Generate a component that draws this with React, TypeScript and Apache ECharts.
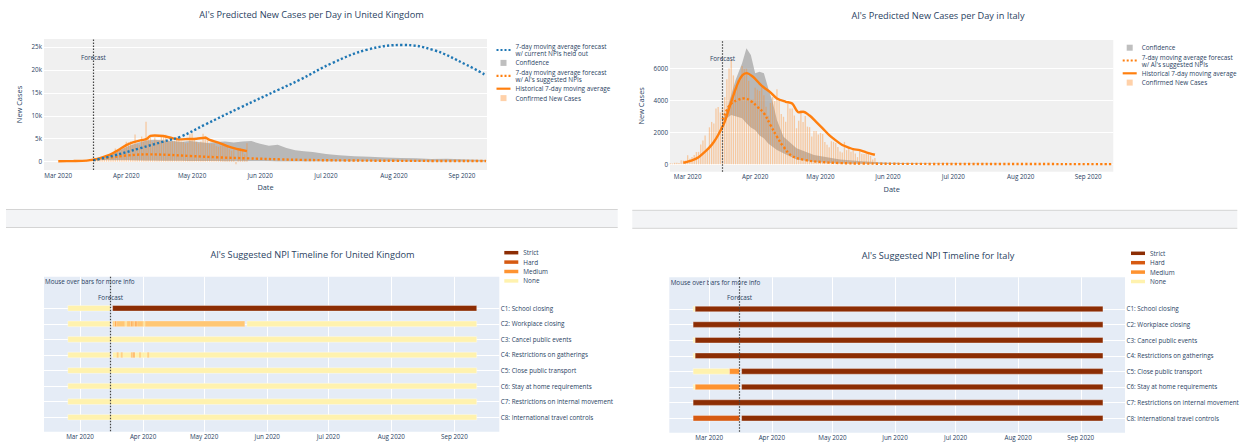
import { useEffect, useRef } from 'react';
import * as echarts from 'echarts';

const FONT = "'Open Sans', verdana, arial, sans-serif";
const TEXT = '#2a3f5f';

// ---------- axes ----------
const monthTickDates = ['2020-03-01', '2020-04-01', '2020-05-01', '2020-06-01', '2020-07-01', '2020-08-01', '2020-09-01'];
const monthTickLabels = ['Mar 2020', 'Apr 2020', 'May 2020', 'Jun 2020', 'Jul 2020', 'Aug 2020', 'Sep 2020'];
const ukYTicks = [0, 5000, 10000, 15000, 20000, 25000];
const ukYTickLabels = ['0', '5k', '10k', '15k', '20k', '25k'];
const itYTicks = [0, 2000, 4000, 6000];
const itYTickLabels = ['0', '2000', '4000', '6000'];

const forecastDate = '2020-03-17';
const npiForecastDate = '2020-03-16';

const heldName = '7-day moving average forecast\nw/ current NPIs held out';
const aiName = "7-day moving average forecast\nw/ AI's suggested NPIs";
const confName = 'Confidence';
const histName = 'Historical 7-day moving average';
const casesName = 'Confirmed New Cases';

// ---------- United Kingdom ----------
const ukCaseStart = '2020-02-24';
const ukDailyCases = [
  4, 0, 0, 2, 5, 3,
  12, 4, 11, 34, 30, 48, 43,
  67, 48, 52, 83, 134, 117, 342,
  250, 152, 407, 676, 643, 714, 1035,
  665, 967, 1427, 1452, 2129, 2885, 2546,
  2433, 2619, 3009, 4324, 4244, 4450, 3735,
  5903, 3802, 3634, 5491, 4344, 8681, 5233,
  5288, 4342, 5252, 4603, 4617, 5599, 5525,
  5850, 4676, 4301, 4451, 4583, 5386, 4913,
  4463, 4309, 3996, 4076, 6032, 6201, 4806,
  4339, 3985, 4406, 6111, 5614, 4649, 3896,
  3923, 3877, 3403, 3242, 3446, 3560, 3450,
  3534, 2684, 2412, 2615, -525, 2959, 2959,
  2409, 1625, 4043,
];
const ukMaDates = ['2020-03-01', '2020-03-08', '2020-03-14', '2020-03-17', '2020-03-20', '2020-03-23', '2020-03-26', '2020-03-29', '2020-04-01', '2020-04-04', '2020-04-07', '2020-04-10', '2020-04-12', '2020-04-14', '2020-04-18', '2020-04-22', '2020-04-25', '2020-04-29', '2020-05-03', '2020-05-07', '2020-05-09', '2020-05-13', '2020-05-17', '2020-05-20', '2020-05-23', '2020-05-26'];
const ukMaValues = [100, 150, 250, 450, 800, 1250, 1900, 2700, 3600, 4200, 4600, 4900, 5600, 5700, 5600, 5100, 4870, 4930, 5000, 5220, 4750, 4150, 3400, 2950, 2600, 2300];
const ukHeldDates = ['2020-03-17', '2020-03-26', '2020-04-07', '2020-04-18', '2020-04-26', '2020-05-07', '2020-05-23', '2020-06-10', '2020-06-19', '2020-07-04', '2020-07-20', '2020-08-05', '2020-08-19', '2020-09-03', '2020-09-12'];
const ukHeldValues = [300, 1300, 2900, 4400, 5500, 8100, 11800, 15800, 17800, 21500, 24400, 25400, 24300, 21100, 18800];
const ukAiDates = ['2020-03-17', '2020-03-24', '2020-04-01', '2020-04-11', '2020-04-20', '2020-04-30', '2020-05-13', '2020-05-26', '2020-06-10', '2020-06-20', '2020-07-10', '2020-08-01', '2020-08-20', '2020-09-12'];
const ukAiValues = [400, 900, 1350, 1600, 1500, 1250, 950, 740, 520, 400, 280, 200, 170, 150];
const ukConfDates = ['2020-03-17', '2020-03-21', '2020-03-25', '2020-03-29', '2020-04-02', '2020-04-06', '2020-04-10', '2020-04-14', '2020-04-18', '2020-04-22', '2020-04-26', '2020-04-30', '2020-05-04', '2020-05-08', '2020-05-12', '2020-05-16', '2020-05-20', '2020-05-24', '2020-05-28', '2020-06-01', '2020-06-05', '2020-06-09', '2020-06-13', '2020-06-17', '2020-06-21', '2020-06-25', '2020-07-01', '2020-07-07', '2020-07-14', '2020-07-21', '2020-07-28', '2020-08-04', '2020-08-11', '2020-08-18', '2020-08-25', '2020-09-01', '2020-09-12'];
const ukConfUpper = [450, 900, 1600, 2500, 3400, 4100, 4600, 4800, 4600, 4500, 4300, 4500, 4300, 4100, 4300, 4400, 4200, 4400, 4500, 3900, 3500, 3700, 3000, 2500, 2300, 2100, 1700, 1400, 1200, 1100, 900, 800, 750, 600, 650, 550, 400];
const ukConfLower = [300, 350, 400, 400, 350, 300, 280, 250, 230, 200, 190, 170, 160, 150, 140, 130, 120, 110, 100, 90, 80, 70, 60, 55, 50, 45, 40, 35, 30, 30, 25, 25, 20, 20, 20, 15, 15];

// ---------- Italy ----------
const itCaseStart = '2020-02-21';
const itDailyCases = [
  14, 62, 53, 97, 93, 78, 250, 238, 240,
  566, 342, 466, 587, 769, 778, 1247,
  1492, 1797, 977, 2313, 2651, 2547, 3497,
  3590, 3233, 3526, 4207, 5322, 5986, 6557,
  5560, 4789, 5249, 5210, 6153, 5959, 5974,
  5217, 4050, 4053, 4782, 4668, 4585, 4805,
  4316, 3599, 3039, 3836, 4204, 3951, 4694,
  4092, 3153, 2972, 2667, 3786, 3493, 3491,
  3047, 2256, 2729, 3370, 2646, 3021, 2357,
  2324, 1739, 2091, 2086, 1872, 1965, 1900,
  1389, 1221, 1075, 1444, 1401, 1327, 1083,
  802, 744, 1402, 888, 992, 789, 875,
  675, 451, 813, 665, 642, 652, 669,
  531, 300, 397,
];
const itMaDates = ['2020-02-28', '2020-03-03', '2020-03-06', '2020-03-09', '2020-03-11', '2020-03-13', '2020-03-15', '2020-03-18', '2020-03-21', '2020-03-24', '2020-03-26', '2020-03-28', '2020-03-31', '2020-04-03', '2020-04-05', '2020-04-08', '2020-04-11', '2020-04-15', '2020-04-18', '2020-04-21', '2020-04-23', '2020-04-26', '2020-04-29', '2020-05-02', '2020-05-05', '2020-05-08', '2020-05-11', '2020-05-14', '2020-05-16', '2020-05-19', '2020-05-22', '2020-05-26'];
const itMaValues = [100, 250, 450, 800, 1060, 1400, 1830, 2660, 3910, 5060, 5550, 5700, 5475, 5050, 4800, 4500, 4120, 3910, 3800, 3250, 3290, 3050, 2660, 2250, 1830, 1500, 1210, 1050, 950, 890, 750, 600];
const itAiDates = ['2020-03-17', '2020-03-19', '2020-03-21', '2020-03-24', '2020-03-27', '2020-03-30', '2020-04-02', '2020-04-05', '2020-04-08', '2020-04-11', '2020-04-14', '2020-04-18', '2020-04-24', '2020-05-01', '2020-05-10', '2020-05-20', '2020-06-10', '2020-07-15', '2020-09-12'];
const itAiValues = [2800, 3400, 3800, 4020, 4120, 3950, 3600, 3190, 2460, 1725, 1100, 520, 270, 150, 80, 50, 30, 20, 15];
const itConfDates = ['2020-03-17', '2020-03-18', '2020-03-21', '2020-03-23', '2020-03-26', '2020-03-28', '2020-03-30', '2020-04-01', '2020-04-03', '2020-04-05', '2020-04-07', '2020-04-09', '2020-04-11', '2020-04-14', '2020-04-20', '2020-04-28', '2020-05-10', '2020-05-20', '2020-06-01', '2020-06-20', '2020-07-20', '2020-09-12'];
const itConfUpper = [2900, 3000, 4330, 5270, 6310, 7250, 6830, 5690, 5790, 5690, 4750, 3910, 2770, 1725, 1000, 580, 300, 200, 100, 50, 30, 20];
const itConfLower = [2700, 2800, 3080, 3000, 2875, 2560, 2300, 2140, 1800, 1625, 1300, 1100, 890, 700, 300, 150, 60, 35, 25, 15, 10, 8];

// ---------- NPI timelines ----------
const npiNames = ['C1: School closing', 'C2: Workplace closing', 'C3: Cancel public events', 'C4: Restrictions on gatherings', 'C5: Close public transport', 'C6: Stay at home requirements', 'C7: Restrictions on internal movement', 'C8: International travel controls'];
const npiLevels = ['Strict', 'Hard', 'Medium', 'None'];
// [row, start, end, level, opacity]
const ukNpiSegments: [number, string, string, string, number][] = [
  [0, '2020-02-24', '2020-03-16', 'None', 1],
  [0, '2020-03-17', '2020-09-12', 'Strict', 1],
  [1, '2020-02-24', '2020-03-16', 'None', 1],
  [1, '2020-03-17', '2020-05-21', 'None', 1],
  [1, '2020-05-22', '2020-09-12', 'None', 1],
  [1, '2020-03-17', '2020-03-18', 'Medium', 0.3],
  [1, '2020-03-18', '2020-03-19', 'Medium', 0.75],
  [1, '2020-03-19', '2020-03-23', 'Medium', 0.45],
  [1, '2020-03-23', '2020-03-24', 'Medium', 0.15],
  [1, '2020-03-24', '2020-03-26', 'Medium', 0.45],
  [1, '2020-03-26', '2020-03-27', 'Medium', 0.75],
  [1, '2020-03-27', '2020-03-28', 'Medium', 0.45],
  [1, '2020-03-28', '2020-03-29', 'Medium', 0.8],
  [1, '2020-03-29', '2020-04-01', 'Medium', 0.45],
  [1, '2020-04-01', '2020-04-02', 'Medium', 0.15],
  [1, '2020-04-02', '2020-05-21', 'Medium', 0.45],
  [2, '2020-02-24', '2020-09-12', 'None', 1],
  [3, '2020-02-24', '2020-03-16', 'None', 1],
  [3, '2020-03-17', '2020-09-12', 'None', 1],
  [3, '2020-03-19', '2020-03-20', 'Medium', 0.35],
  [3, '2020-03-21', '2020-03-22', 'Medium', 0.35],
  [3, '2020-03-26', '2020-03-27', 'Medium', 0.45],
  [3, '2020-03-27', '2020-03-28', 'Medium', 0.6],
  [3, '2020-03-30', '2020-03-31', 'Medium', 0.3],
  [3, '2020-04-03', '2020-04-04', 'Medium', 0.35],
  [4, '2020-02-24', '2020-09-12', 'None', 1],
  [5, '2020-02-24', '2020-09-12', 'None', 1],
  [6, '2020-02-24', '2020-09-12', 'None', 1],
  [7, '2020-02-24', '2020-09-12', 'None', 1],
];
const itNpiSegments: [number, string, string, string, number][] = [
  [0, '2020-02-22', '2020-02-23', 'None', 1],
  [0, '2020-02-23', '2020-09-12', 'Strict', 1],
  [1, '2020-02-22', '2020-09-12', 'Strict', 1],
  [2, '2020-02-22', '2020-02-23', 'None', 1],
  [2, '2020-02-23', '2020-09-12', 'Strict', 1],
  [3, '2020-02-22', '2020-02-23', 'None', 1],
  [3, '2020-02-23', '2020-09-12', 'Strict', 1],
  [4, '2020-02-22', '2020-03-11', 'None', 1],
  [4, '2020-03-11', '2020-03-16', 'Medium', 1],
  [4, '2020-03-17', '2020-09-12', 'Strict', 1],
  [5, '2020-02-22', '2020-02-23', 'None', 1],
  [5, '2020-02-23', '2020-03-16', 'Medium', 1],
  [5, '2020-03-17', '2020-09-12', 'Strict', 1],
  [6, '2020-02-22', '2020-09-12', 'Strict', 1],
  [7, '2020-02-22', '2020-03-16', 'Hard', 1],
  [7, '2020-03-17', '2020-09-12', 'Strict', 1],
];

// ---------- helpers ----------
const DAY = 86400000;
const ts = (s: string, h = 0) => {
  const [y, m, d] = s.split('-').map(Number);
  return new Date(y, m - 1, d, h).getTime();
};
const pairs = (dates: string[], values: number[]) => dates.map((d, i) => [ts(d), values[i]]);
const daily = (start: string, values: number[]) => values.map((v, i) => [ts(start) + i * DAY, v]);
const monthTicks = monthTickDates.map((d) => ts(d));

const levelColors: Record<string, string> = { Strict: '#8c2d04', Hard: '#d65a12', Medium: '#fe9330', None: '#fff2ae' };
const SQUARE = 'path://M0,0L10,0L10,10L0,10Z';
const DOT_ICON = 'path://M0,0h2.2v2.4h-2.2z M4.4,0h2.2v2.4h-2.2z M8.8,0h2.2v2.4h-2.2z M13.2,0h2.2v2.4h-2.2z';
const LINE_ICON = 'path://M0,0L15.4,0L15.4,2.4L0,2.4Z';
const ORANGE = '#ff7f0e';
const BLUE = '#1f77b4';
const GRAY = 'rgba(128,128,128,0.5)';
const DOT = [2.2, 2.2];
const labelFont = { color: TEXT, fontFamily: FONT, fontSize: 6.3 };

function dateAxis(gridIndex: number, min: number, max: number, top: boolean) {
  return {
    type: 'value', gridIndex, min, max, scale: true,
    name: top ? 'Date' : '',
    nameLocation: 'middle', nameGap: 13.5,
    nameTextStyle: { color: TEXT, fontFamily: FONT, fontSize: 7.4 },
    axisLine: { show: false },
    axisTick: { show: false, customValues: monthTicks },
    axisLabel: {
      ...labelFont, margin: 2, customValues: monthTicks,
      formatter: (v: number, i: number) => {
        const k = monthTicks.indexOf(v);
        return monthTickLabels[k >= 0 ? k : i] ?? '';
      },
    },
    splitLine: { show: !top, lineStyle: { color: '#ffffff', width: 1 } },
  };
}

function casesAxis(gridIndex: number, min: number, max: number, ticks: number[], labels: string[], gap: number) {
  return {
    type: 'value', gridIndex, min, max,
    name: 'New Cases', nameLocation: 'middle', nameGap: gap, nameRotate: 90,
    nameTextStyle: { color: TEXT, fontFamily: FONT, fontSize: 7.4 },
    axisLine: { show: false },
    axisTick: { show: false, customValues: ticks },
    axisLabel: {
      ...labelFont, margin: 2, customValues: ticks,
      formatter: (v: number) => { const k = ticks.indexOf(v); return k >= 0 ? labels[k] : ''; },
    },
    splitLine: { show: true, lineStyle: { color: '#ffffff', width: 1 } },
  };
}

function npiAxis(gridIndex: number) {
  const rows = npiNames.map((_, i) => i);
  return {
    type: 'value', gridIndex, min: -2.03, max: 7.93, inverse: true, position: 'right',
    axisLine: { show: false },
    axisTick: { show: false, customValues: rows },
    axisLabel: { ...labelFont, margin: 1.5, customValues: rows, formatter: (v: number) => npiNames[Math.round(v)] ?? '' },
    splitLine: { show: true, lineStyle: { color: '#ffffff', width: 1 } },
  };
}

const forecastMarkLine = (date: string) => ({
  silent: true, symbol: ['none', 'none'], label: { show: false },
  lineStyle: { color: '#444444', type: [1.5, 1.5], width: 1.2 },
  emphasis: { disabled: true },
  data: [{ xAxis: ts(date) }],
});
const forecastMarkPoint = (date: string, y: number) => ({
  silent: true, symbol: 'circle', symbolSize: 1, itemStyle: { color: 'rgba(0,0,0,0)' },
  label: { show: true, position: 'inside', formatter: 'Forecast', ...labelFont },
  data: [{ coord: [ts(date), y] }],
});

function casesSeries(idx: number, c: any) {
  const band = c.confDates.map((d: string, i: number) => [ts(d), c.confLower[i], c.confUpper[i]]);
  const list: any[] = [
    {
      type: 'bar', name: casesName, xAxisIndex: idx, yAxisIndex: idx, barWidth: 1.3,
      itemStyle: { color: 'rgba(255,140,40,0.4)' }, data: daily(c.start, c.cases),
    },
    {
      type: 'line', name: histName, xAxisIndex: idx, yAxisIndex: idx, symbol: 'none', color: ORANGE,
      lineStyle: { color: ORANGE, width: 2.4 }, data: pairs(c.maDates, c.maValues), smooth: 0.3,
      markLine: forecastMarkLine(forecastDate), markPoint: forecastMarkPoint(forecastDate, c.labelY),
    },
    {
      type: 'custom', name: confName, xAxisIndex: idx, yAxisIndex: idx, silent: true,
      color: GRAY, itemStyle: { color: GRAY },
      encode: { x: 0, y: [1, 2] },
      data: band,
      renderItem: (params: any, api: any) => {
        if (params.dataIndex !== 0) return null;
        const upper = band.map((p: number[]) => api.coord([p[0], p[2]]));
        const lower = band.slice().reverse().map((p: number[]) => api.coord([p[0], p[1]]));
        return { type: 'polygon', shape: { points: upper.concat(lower) }, style: { fill: GRAY } };
      },
    },
    {
      type: 'line', name: aiName, xAxisIndex: idx, yAxisIndex: idx, symbol: 'none', color: ORANGE, smooth: 0.4,
      lineStyle: { color: ORANGE, width: 2.4, type: DOT }, data: pairs(c.aiDates, c.aiValues),
    },
  ];
  if (c.heldDates) {
    list.push({
      type: 'line', name: heldName, xAxisIndex: idx, yAxisIndex: idx, symbol: 'none', color: BLUE, smooth: 0.4,
      lineStyle: { color: BLUE, width: 2.4, type: DOT }, data: pairs(c.heldDates, c.heldValues),
    });
  }
  return list;
}

function npiSeries(idx: number, segs: [number, string, string, string, number][]) {
  return ['None', 'Medium', 'Hard', 'Strict'].map((level) => {
    const color = levelColors[level];
    const s: any = {
      type: 'custom', name: level, xAxisIndex: idx, yAxisIndex: idx, color, itemStyle: { color }, silent: true,
      encode: { x: [1, 2], y: 0 },
      data: segs.filter((g) => g[3] === level).map((g) => [g[0], ts(g[1]), ts(g[2]), g[4]]),
      renderItem: (_p: any, api: any) => {
        const a = api.coord([api.value(1), api.value(0)]);
        const b = api.coord([api.value(2), api.value(0)]);
        const h = 5.6;
        return {
          type: 'rect',
          shape: { x: a[0], y: a[1] - h / 2, width: b[0] - a[0], height: h },
          style: { fill: color, stroke: 'rgba(255,255,255,0.45)', lineWidth: 0.8, opacity: api.value(3) },
        };
      },
    };
    if (level === 'None') {
      s.markLine = forecastMarkLine(npiForecastDate);
      s.markPoint = forecastMarkPoint(npiForecastDate, -0.71);
    }
    return s;
  });
}

function buildOption() {
  const legendText = { color: TEXT, fontFamily: FONT, fontSize: 6.4, lineHeight: 7 };
  const topLegend = { orient: 'vertical', padding: 0, itemWidth: 14, itemHeight: 6, selectedMode: false, textStyle: legendText };
  const npiLegend = {
    orient: 'vertical', padding: 0, itemWidth: 14, itemHeight: 3.5, itemGap: 2, selectedMode: false,
    textStyle: { ...legendText, lineHeight: 7.4 },
    data: npiLevels.map((n) => ({ name: n, icon: 'rect' })),
  };
  const titleStyle = { color: TEXT, fontFamily: FONT, fontSize: 9.2, fontWeight: 'normal' };
  const gridBg = (c: string) => ({ show: true, backgroundColor: c, borderWidth: 0 });
  return {
    animation: false,
    textStyle: { fontFamily: FONT },
    title: [
      { text: "AI's Predicted New Cases per Day in United Kingdom", left: 311.5, top: 9.5, textAlign: 'center', padding: 0, textStyle: titleStyle },
      { text: "AI's Predicted New Cases per Day in Italy", left: 938, top: 10.5, textAlign: 'center', padding: 0, textStyle: titleStyle },
      { text: "AI's Suggested NPI Timeline for United Kingdom", left: 312.5, top: 249.5, textAlign: 'center', padding: 0, textStyle: titleStyle },
      { text: "AI's Suggested NPI Timeline for Italy", left: 938, top: 251, textAlign: 'center', padding: 0, textStyle: titleStyle },
    ],
    legend: [
      {
        ...topLegend, left: 496.5, top: 43, itemGap: 2.4,
        data: [{ name: heldName, icon: DOT_ICON }, { name: confName, icon: SQUARE }, { name: aiName, icon: DOT_ICON }, { name: histName, icon: LINE_ICON }, { name: casesName, icon: SQUARE }],
      },
      {
        ...topLegend, left: 1122.7, top: 44.2, itemGap: 2.3,
        data: [{ name: confName, icon: SQUARE }, { name: aiName, icon: DOT_ICON }, { name: histName, icon: LINE_ICON }, { name: casesName, icon: SQUARE }],
      },
      { ...npiLegend, left: 504.3, top: 249 },
      { ...npiLegend, left: 1131, top: 249.6 },
    ],
    grid: [
      { left: 44, top: 39, width: 443, height: 131, ...gridBg('#f0f0f0') },
      { left: 670, top: 40, width: 443.3, height: 131.7, ...gridBg('#f0f0f0') },
      { left: 44, top: 276.7, width: 455.3, height: 155, ...gridBg('#e5ecf6') },
      { left: 669.3, top: 277.3, width: 455.7, height: 155.4, ...gridBg('#e5ecf6') },
    ],
    xAxis: [
      dateAxis(0, ts('2020-02-23', 12), ts('2020-09-12', 10), true),
      dateAxis(1, ts('2020-02-21', 21), ts('2020-09-12', 12), true),
      dateAxis(2, ts('2020-02-12', 7), ts('2020-09-23', 2), false),
      dateAxis(3, ts('2020-02-10', 5), ts('2020-09-22', 22), false),
    ],
    yAxis: [
      casesAxis(0, -1800, 26700, ukYTicks, ukYTickLabels, 22),
      casesAxis(1, -460, 7770, itYTicks, itYTickLabels, 26),
      npiAxis(2),
      npiAxis(3),
    ],
    graphic: [
      { type: 'rect', silent: true, shape: { x: 6, y: 209.5, width: 611.7, height: 18 }, style: { fill: '#f3f4f6' } },
      { type: 'line', silent: true, shape: { x1: 6, y1: 209.5, x2: 617.7, y2: 209.5 }, style: { stroke: '#d4d4d4', lineWidth: 1 } },
      { type: 'line', silent: true, shape: { x1: 6, y1: 227.5, x2: 617.7, y2: 227.5 }, style: { stroke: '#d4d4d4', lineWidth: 1 } },
      { type: 'rect', silent: true, shape: { x: 632.3, y: 210.3, width: 605, height: 18 }, style: { fill: '#f3f4f6' } },
      { type: 'line', silent: true, shape: { x1: 632.3, y1: 210.3, x2: 1237.3, y2: 210.3 }, style: { stroke: '#d4d4d4', lineWidth: 1 } },
      { type: 'line', silent: true, shape: { x1: 632.3, y1: 228.3, x2: 1237.3, y2: 228.3 }, style: { stroke: '#d4d4d4', lineWidth: 1 } },
      { type: 'text', silent: true, x: 45, y: 281.7, style: { text: 'Mouse over bars for more info', fill: TEXT, fontFamily: FONT, fontSize: 6.3, verticalAlign: 'middle' } },
      { type: 'text', silent: true, x: 670.7, y: 282.3, style: { text: 'Mouse over bars for more info', fill: TEXT, fontFamily: FONT, fontSize: 6.3, verticalAlign: 'middle' } },
    ],
    series: [
      ...casesSeries(0, {
        start: ukCaseStart, cases: ukDailyCases, maDates: ukMaDates, maValues: ukMaValues,
        confDates: ukConfDates, confUpper: ukConfUpper, confLower: ukConfLower,
        aiDates: ukAiDates, aiValues: ukAiValues, heldDates: ukHeldDates, heldValues: ukHeldValues, labelY: 22760,
      }),
      ...casesSeries(1, {
        start: itCaseStart, cases: itDailyCases, maDates: itMaDates, maValues: itMaValues,
        confDates: itConfDates, confUpper: itConfUpper, confLower: itConfLower,
        aiDates: itAiDates, aiValues: itAiValues, labelY: 6644,
      }),
      ...npiSeries(2, ukNpiSegments),
      ...npiSeries(3, itNpiSegments),
    ],
  };
}

export default function App() {
  const ref = useRef<HTMLDivElement>(null);
  useEffect(() => {
    const chart = echarts.init(ref.current!, null, { renderer: 'svg' });
    chart.setOption(buildOption() as any);
    return () => chart.dispose();
  }, []);
  return <div ref={ref} style={{ position: 'absolute', left: 0, top: 0, width: 1243, height: 443 }} />;
}
